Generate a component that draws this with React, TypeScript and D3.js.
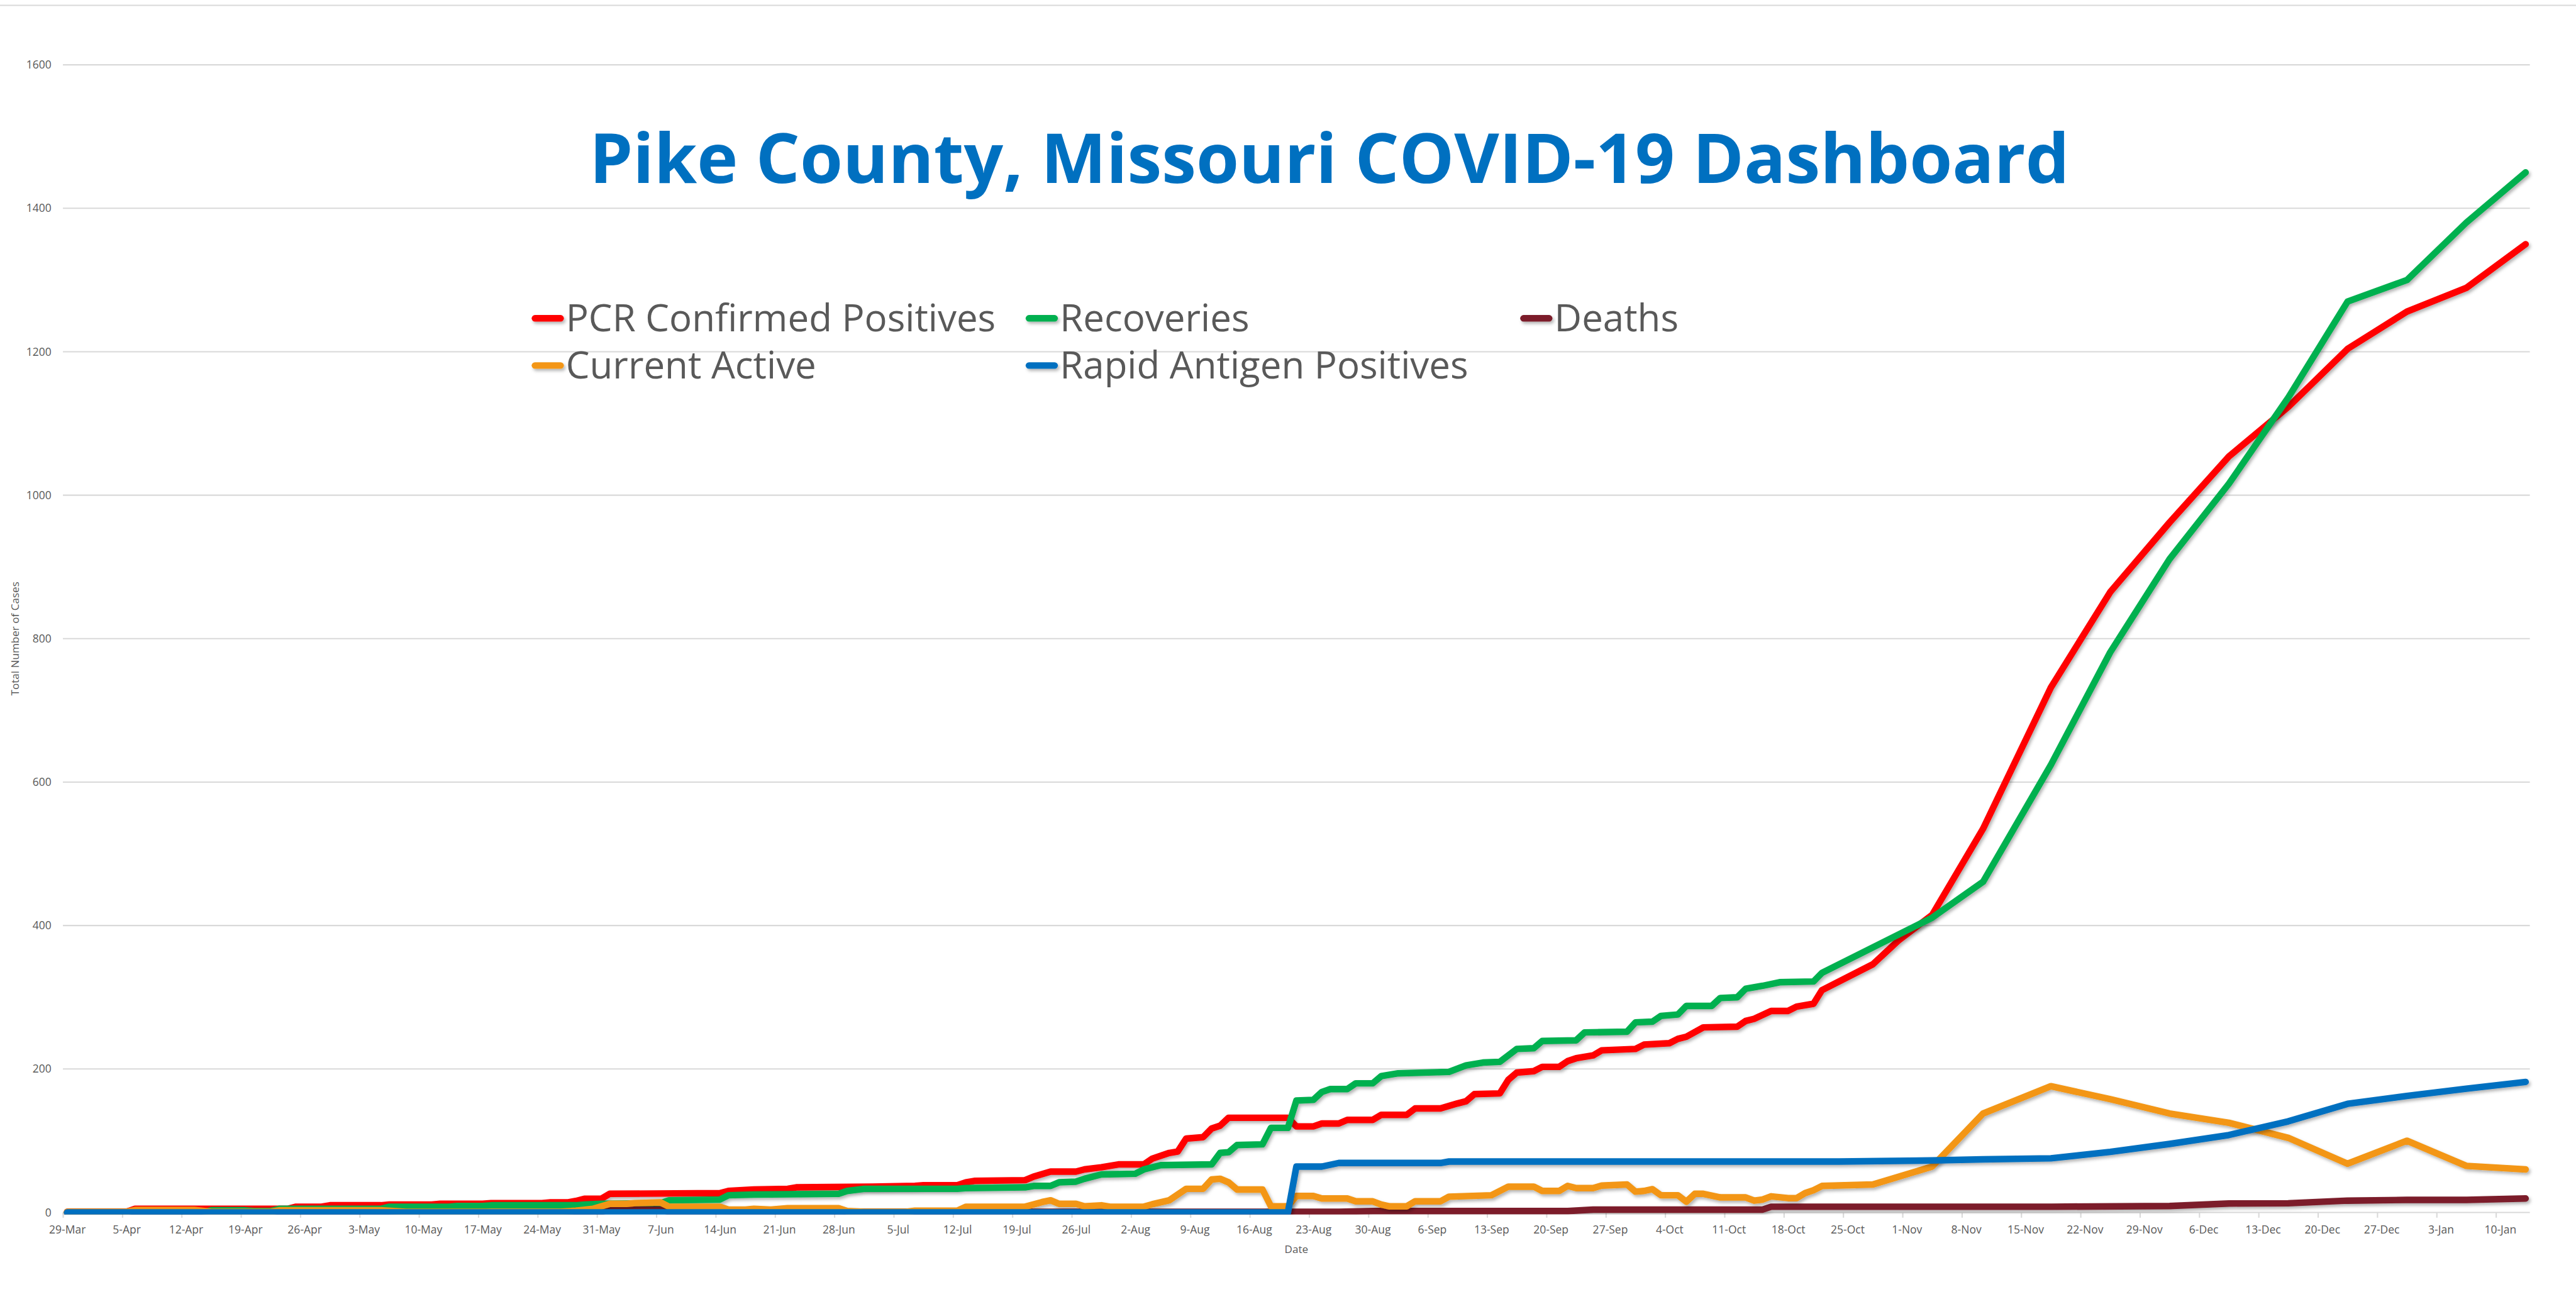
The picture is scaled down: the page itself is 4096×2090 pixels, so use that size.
import React, { useEffect, useRef } from "react";
import * as d3 from "d3";

// Chart text + axis
const title = "Pike County, Missouri COVID-19 Dashboard";
const yTitle = "Total Number of Cases";
const xTitle = "Date";
const yTicks = [0, 200, 400, 600, 800, 1000, 1200, 1400, 1600];
const startDate = "2020-03-29";
const endDate = "2021-01-14";

// Series values (change points only)
const pcrConfirmed: [string, number][] = [
    ["2020-03-29", 1], ["2020-04-05", 1], ["2020-04-06", 5], ["2020-04-24", 5], ["2020-04-25", 8],
    ["2020-04-28", 8], ["2020-04-29", 10], ["2020-05-05", 10], ["2020-05-06", 11], ["2020-05-11", 11],
    ["2020-05-12", 12], ["2020-05-17", 12], ["2020-05-18", 13], ["2020-05-24", 13], ["2020-05-25", 14],
    ["2020-05-27", 14], ["2020-05-28", 16], ["2020-05-29", 19], ["2020-05-31", 19], ["2020-06-01", 26],
    ["2020-06-14", 27], ["2020-06-15", 30], ["2020-06-18", 32], ["2020-06-22", 33], ["2020-06-23", 35],
    ["2020-07-02", 36], ["2020-07-07", 37], ["2020-07-08", 38], ["2020-07-12", 38], ["2020-07-13", 42],
    ["2020-07-14", 44], ["2020-07-20", 45], ["2020-07-21", 50], ["2020-07-23", 57], ["2020-07-26", 57],
    ["2020-07-27", 60], ["2020-07-29", 63], ["2020-07-31", 67], ["2020-08-03", 67], ["2020-08-04", 75],
    ["2020-08-06", 83], ["2020-08-07", 85], ["2020-08-08", 103], ["2020-08-10", 105], ["2020-08-11", 117],
    ["2020-08-12", 121], ["2020-08-13", 132], ["2020-08-20", 132], ["2020-08-21", 120], ["2020-08-23", 120],
    ["2020-08-24", 124], ["2020-08-26", 124], ["2020-08-27", 129], ["2020-08-30", 129], ["2020-08-31", 136],
    ["2020-09-03", 136], ["2020-09-04", 145], ["2020-09-07", 145], ["2020-09-09", 152], ["2020-09-10", 155],
    ["2020-09-11", 165], ["2020-09-14", 166], ["2020-09-15", 185], ["2020-09-16", 195], ["2020-09-18", 197],
    ["2020-09-19", 203], ["2020-09-21", 203], ["2020-09-22", 211], ["2020-09-23", 215], ["2020-09-25", 219],
    ["2020-09-26", 226], ["2020-09-30", 228], ["2020-10-01", 234], ["2020-10-04", 236], ["2020-10-05", 242],
    ["2020-10-06", 245], ["2020-10-08", 258], ["2020-10-12", 259], ["2020-10-13", 267], ["2020-10-14", 270],
    ["2020-10-16", 281], ["2020-10-18", 281], ["2020-10-19", 287], ["2020-10-21", 291], ["2020-10-22", 310],
    ["2020-10-28", 346], ["2020-10-31", 379], ["2020-11-04", 415], ["2020-11-10", 535], ["2020-11-18", 732],
    ["2020-11-25", 865], ["2020-12-02", 962], ["2020-12-09", 1054], ["2020-12-16", 1123], ["2020-12-23", 1204],
    ["2020-12-30", 1256], ["2021-01-06", 1289], ["2021-01-13", 1350],
];

const recoveries: [string, number][] = [
    ["2020-03-29", 0], ["2020-04-14", 0], ["2020-04-15", 3], ["2020-04-19", 3], ["2020-04-20", 2],
    ["2020-04-22", 2], ["2020-04-23", 5], ["2020-05-05", 5], ["2020-05-06", 8], ["2020-05-13", 8],
    ["2020-05-14", 9], ["2020-05-17", 9], ["2020-05-18", 10], ["2020-05-28", 10], ["2020-05-29", 11],
    ["2020-05-31", 12], ["2020-06-07", 13], ["2020-06-08", 17], ["2020-06-14", 18], ["2020-06-15", 24],
    ["2020-06-18", 25], ["2020-06-28", 26], ["2020-06-29", 30], ["2020-07-01", 33], ["2020-07-12", 33],
    ["2020-07-13", 34], ["2020-07-20", 35], ["2020-07-21", 37], ["2020-07-23", 37], ["2020-07-24", 42],
    ["2020-07-26", 43], ["2020-07-27", 47], ["2020-07-29", 53], ["2020-08-02", 54], ["2020-08-03", 60],
    ["2020-08-05", 66], ["2020-08-11", 67], ["2020-08-12", 83], ["2020-08-13", 84], ["2020-08-14", 94],
    ["2020-08-17", 95], ["2020-08-18", 118], ["2020-08-20", 118], ["2020-08-21", 156], ["2020-08-23", 157],
    ["2020-08-24", 168], ["2020-08-25", 172], ["2020-08-27", 172], ["2020-08-28", 180], ["2020-08-30", 180],
    ["2020-08-31", 190], ["2020-09-02", 194], ["2020-09-08", 196], ["2020-09-10", 205], ["2020-09-12", 209],
    ["2020-09-14", 210], ["2020-09-16", 228], ["2020-09-18", 229], ["2020-09-19", 239], ["2020-09-23", 240],
    ["2020-09-24", 251], ["2020-09-29", 252], ["2020-09-30", 265], ["2020-10-02", 266], ["2020-10-03", 274],
    ["2020-10-05", 276], ["2020-10-06", 288], ["2020-10-09", 288], ["2020-10-10", 299], ["2020-10-12", 300],
    ["2020-10-13", 312], ["2020-10-15", 316], ["2020-10-17", 321], ["2020-10-21", 322], ["2020-10-22", 334],
    ["2020-11-04", 411], ["2020-11-10", 461], ["2020-11-18", 624], ["2020-11-25", 781], ["2020-12-02", 911],
    ["2020-12-09", 1016], ["2020-12-16", 1136], ["2020-12-23", 1270], ["2020-12-30", 1300], ["2021-01-06", 1380],
    ["2021-01-13", 1450],
];

const deaths: [string, number][] = [
    ["2020-03-29", 0], ["2020-05-30", 0], ["2020-05-31", 1], ["2020-06-01", 4], ["2020-06-07", 4],
    ["2020-06-08", 1], ["2020-08-26", 1], ["2020-08-30", 2], ["2020-09-22", 2], ["2020-09-25", 4],
    ["2020-10-15", 4], ["2020-10-16", 8], ["2020-11-18", 8], ["2020-12-02", 9], ["2020-12-09", 12.5],
    ["2020-12-16", 12.8], ["2020-12-23", 16.5], ["2020-12-30", 17.5], ["2021-01-06", 17.5], ["2021-01-13", 19.5],
];

const currentActive: [string, number][] = [
    ["2020-03-29", 1], ["2020-04-05", 1], ["2020-04-06", 3.5], ["2020-04-13", 3.5], ["2020-04-15", 1],
    ["2020-04-22", 1], ["2020-04-23", 3], ["2020-05-05", 3], ["2020-05-08", 1], ["2020-05-26", 1],
    ["2020-05-28", 2.5], ["2020-05-30", 5], ["2020-06-01", 12], ["2020-06-03", 12], ["2020-06-04", 13],
    ["2020-06-07", 14], ["2020-06-08", 8], ["2020-06-14", 8], ["2020-06-15", 4], ["2020-06-17", 4],
    ["2020-06-18", 5], ["2020-06-20", 4], ["2020-06-22", 6], ["2020-06-28", 6], ["2020-06-29", 2],
    ["2020-07-01", 1], ["2020-07-06", 1], ["2020-07-07", 2.5], ["2020-07-12", 2.5], ["2020-07-13", 8],
    ["2020-07-20", 8], ["2020-07-22", 14.5], ["2020-07-23", 17], ["2020-07-24", 12], ["2020-07-26", 12],
    ["2020-07-27", 8.5], ["2020-07-29", 10], ["2020-07-30", 8], ["2020-08-03", 8], ["2020-08-04", 11.5],
    ["2020-08-06", 17], ["2020-08-08", 33], ["2020-08-10", 33], ["2020-08-11", 46], ["2020-08-12", 47],
    ["2020-08-13", 42], ["2020-08-14", 32], ["2020-08-17", 32], ["2020-08-18", 8.5], ["2020-08-20", 8.5],
    ["2020-08-21", 23], ["2020-08-23", 23], ["2020-08-24", 19.5], ["2020-08-27", 19.5], ["2020-08-28", 15.5],
    ["2020-08-30", 15.5], ["2020-08-31", 11], ["2020-09-01", 8.5], ["2020-09-03", 8.5], ["2020-09-04", 15.5],
    ["2020-09-07", 15.5], ["2020-09-08", 22], ["2020-09-13", 24], ["2020-09-15", 36], ["2020-09-18", 36],
    ["2020-09-19", 30], ["2020-09-21", 30], ["2020-09-22", 37], ["2020-09-23", 34], ["2020-09-25", 34],
    ["2020-09-26", 37.5], ["2020-09-29", 39], ["2020-09-30", 29], ["2020-10-01", 30], ["2020-10-02", 32.5],
    ["2020-10-03", 24], ["2020-10-05", 24], ["2020-10-06", 15], ["2020-10-07", 26], ["2020-10-08", 26],
    ["2020-10-10", 21], ["2020-10-13", 21], ["2020-10-14", 16.5], ["2020-10-15", 18], ["2020-10-16", 22.5],
    ["2020-10-18", 20], ["2020-10-19", 20], ["2020-10-20", 27], ["2020-10-21", 31], ["2020-10-22", 37],
    ["2020-10-28", 39], ["2020-11-04", 64], ["2020-11-10", 138], ["2020-11-18", 176], ["2020-11-25", 158],
    ["2020-12-02", 138], ["2020-12-09", 125], ["2020-12-16", 104], ["2020-12-23", 68], ["2020-12-30", 100],
    ["2021-01-06", 65], ["2021-01-13", 60],
];

const rapidAntigen: [string, number][] = [
    ["2020-03-29", 0], ["2020-08-20", 0], ["2020-08-21", 64], ["2020-08-24", 64], ["2020-08-26", 69],
    ["2020-09-07", 69], ["2020-09-08", 71], ["2020-10-24", 71], ["2020-11-04", 72.5], ["2020-11-10", 74],
    ["2020-11-18", 75.5], ["2020-11-25", 84.5], ["2020-12-02", 95.5], ["2020-12-09", 108], ["2020-12-16", 127],
    ["2020-12-23", 151.5], ["2020-12-30", 162.5], ["2021-01-06", 172.5], ["2021-01-13", 182],
];

// Drawing order matches the legend order
const series = [
    { name: "PCR Confirmed Positives", color: "#FF0000", data: pcrConfirmed },
    { name: "Recoveries", color: "#00B050", data: recoveries },
    { name: "Deaths", color: "#7B1E2A", data: deaths },
    { name: "Current Active", color: "#F39612", data: currentActive },
    { name: "Rapid Antigen Positives", color: "#0070C0", data: rapidAntigen },
];

const W = 4912;
const H = 2506;
const FONT = "'Open Sans', 'DejaVu Sans', sans-serif";
const GRAY_TEXT = "#595959";
const GRID = "#D9D9D9";

const App: React.FC = () => {
    const svgRef = useRef<SVGSVGElement>(null);

    // plot area (reference pixels)
    const plot = { left: 120, right: 4824, top: 123.5, bottom: 2312.5 };

    useEffect(() => {
        if (!svgRef.current) return;
        const svg = d3.select(svgRef.current);
        svg.selectAll("*").remove();

        const parse = d3.timeParse("%Y-%m-%d");
        const t0 = parse(startDate) as Date;
        const t1 = parse(endDate) as Date;

        const x = d3.scaleTime().domain([t0, t1]).range([plot.left, plot.right]);
        const y = d3.scaleLinear().domain([0, 1600]).range([plot.bottom, plot.top]);
        const halfDay = x(d3.timeHour.offset(t0, 12)) - x(t0);

        const defs = svg.append("defs");

        // drop shadow like the Excel line effect
        const filter = defs
            .append("filter")
            .attr("id", "lineShadow")
            .attr("filterUnits", "userSpaceOnUse")
            .attr("x", 0)
            .attr("y", 0)
            .attr("width", W)
            .attr("height", H);
        filter
            .append("feDropShadow")
            .attr("dx", 3)
            .attr("dy", 4)
            .attr("stdDeviation", 3)
            .attr("flood-color", "#000")
            .attr("flood-opacity", 0.3);

        // lines are cut a little below the zero line
        defs.append("clipPath")
            .attr("id", "plotClip")
            .append("rect")
            .attr("x", 0)
            .attr("y", 0)
            .attr("width", W)
            .attr("height", plot.bottom + 4);

        svg.append("rect").attr("width", W).attr("height", H).attr("fill", "#fff");

        // chart border (only the top edge shows)
        svg.append("line")
            .attr("x1", 0)
            .attr("x2", W)
            .attr("y1", 10)
            .attr("y2", 10)
            .attr("stroke", GRID)
            .attr("stroke-width", 2.5);

        // gridlines
        svg.append("g")
            .selectAll("line")
            .data(yTicks)
            .enter()
            .append("line")
            .attr("x1", plot.left)
            .attr("x2", plot.right)
            .attr("y1", (d) => y(d))
            .attr("y2", (d) => y(d))
            .attr("stroke", GRID)
            .attr("stroke-width", 2.5);

        // y tick labels
        svg.append("g")
            .selectAll("text")
            .data(yTicks)
            .enter()
            .append("text")
            .attr("x", 98)
            .attr("y", (d) => y(d))
            .attr("dy", "0.35em")
            .attr("text-anchor", "end")
            .attr("font-family", FONT)
            .attr("font-size", 21)
            .attr("fill", GRAY_TEXT)
            .text((d) => d);

        // x axis (weekly ticks, labels centred on the day)
        const weeks = d3.timeWeek.range(t0, t1);
        const xAxis = svg
            .append("g")
            .attr("transform", `translate(0,${y(0)})`)
            .call(
                d3
                    .axisBottom(x)
                    .tickValues(weeks)
                    .tickSize(10)
                    .tickFormat((d) => d3.timeFormat("%-d-%b")(d as Date))
            );
        xAxis.select(".domain").remove();
        xAxis.selectAll("line").attr("stroke", GRID).attr("stroke-width", 2.5);
        xAxis
            .selectAll("text")
            .attr("font-family", FONT)
            .attr("font-size", 21)
            .attr("fill", GRAY_TEXT)
            .attr("dx", halfDay)
            .attr("y", 40)
            .attr("dy", 0);

        // axis titles
        svg.append("text")
            .attr("x", (plot.left + plot.right) / 2)
            .attr("y", 2390)
            .attr("text-anchor", "middle")
            .attr("font-family", FONT)
            .attr("font-size", 20.5)
            .attr("fill", GRAY_TEXT)
            .text(xTitle);

        svg.append("text")
            .attr("transform", `translate(36.5,${(plot.top + plot.bottom) / 2}) rotate(-90)`)
            .attr("text-anchor", "middle")
            .attr("font-family", FONT)
            .attr("font-size", 20.5)
            .attr("fill", GRAY_TEXT)
            .text(yTitle);

        // title
        svg.append("text")
            .attr("x", 2535)
            .attr("y", 349)
            .attr("text-anchor", "middle")
            .attr("font-family", FONT)
            .attr("font-weight", "bold")
            .attr("font-size", 132)
            .attr("fill", "#0070C0")
            .text(title);

        // legend: 3 columns, 2 rows
        const legendCols = [1014, 1956, 2899];
        const legendRows = [632, 722];
        const legend = svg.append("g");
        series.forEach((s, i) => {
            const mx = legendCols[i % 3];
            const by = legendRows[Math.floor(i / 3)];
            legend
                .append("line")
                .attr("x1", mx + 6)
                .attr("x2", mx + 55)
                .attr("y1", by - 25)
                .attr("y2", by - 25)
                .attr("stroke", s.color)
                .attr("stroke-width", 12.5)
                .attr("stroke-linecap", "round")
                .attr("filter", "url(#lineShadow)");
            legend
                .append("text")
                .attr("x", mx + 65)
                .attr("y", by)
                .attr("font-family", FONT)
                .attr("font-size", 72)
                .attr("fill", GRAY_TEXT)
                .text(s.name);
        });

        // series lines
        const line = d3
            .line<[string, number]>()
            .x((d) => x(d3.timeHour.offset(parse(d[0]) as Date, 12)))
            .y((d) => y(d[1]));

        svg.append("g")
            .attr("clip-path", "url(#plotClip)")
            .selectAll("path")
            .data(series)
            .enter()
            .append("path")
            .attr("d", (s) => line(s.data))
            .attr("fill", "none")
            .attr("stroke", (s) => s.color)
            .attr("stroke-width", 12.5)
            .attr("stroke-linejoin", "round")
            .attr("stroke-linecap", "round")
            .attr("filter", "url(#lineShadow)");
    }, []);

    return (
        <svg
            ref={svgRef}
            width={4096}
            height={2090}
            viewBox={`0 0 ${W} ${H}`}
            style={{ position: "absolute", left: 0, top: 0, display: "block" }}
        />
    );
};

export default App;
